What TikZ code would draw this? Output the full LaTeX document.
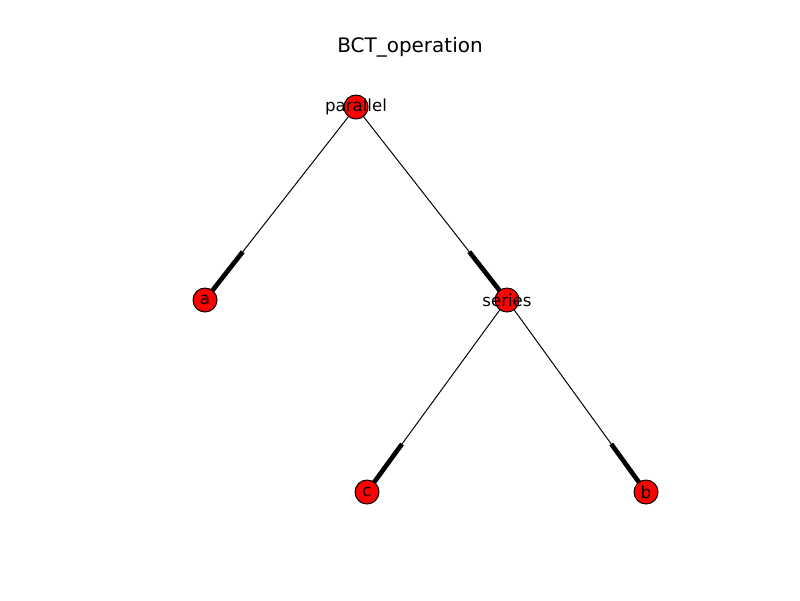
\documentclass[tikz,border=0pt]{standalone}
\usepackage{fontspec}
\setmainfont{DejaVu Sans}
\usetikzlibrary{backgrounds}
\tikzset{
  vertex/.style={circle, draw=black, fill=red, line width=0.7pt, minimum size=0.6cm, inner sep=0pt, font=\fontsize{11.8}{12}\selectfont},
  edge/.style={line width=0.7pt},
  tip/.style={line width=3.3pt}
}
\begin{document}
\begin{tikzpicture}[x=0.025cm, y=-0.025cm]
\useasboundingbox (0,0) rectangle (800,600);
\node at (410,47) {\fontsize{14.2}{15}\selectfont BCT\_operation};
\node[vertex] (parallel) at (356,107) {};
\node[vertex] (a) at (205,300) {};
\node[vertex] (series) at (507,300) {};
\node[vertex] (c) at (367,492) {};
\node[vertex] (b) at (646,492) {};
\node[font=\fontsize{11.8}{12}\selectfont] at (parallel) {parallel};
\node[font=\fontsize{11.8}{12}\selectfont] at (a) {a};
\node[font=\fontsize{11.8}{12}\selectfont] at (series) {series};
\node[font=\fontsize{11.8}{12}\selectfont] at (c) {c};
\node[font=\fontsize{11.8}{12}\selectfont] at (b) {b};
\begin{scope}[on background layer]
% edges: thin line, thick end near the target
\foreach \u/\v in {parallel/a, parallel/series, series/c, series/b} {
  \draw[edge] (\u.center) -- (\v.center) coordinate[pos=0.75] (\u-\v);
  \draw[tip] (\u-\v) -- (\v.center);
}
\end{scope}
\end{tikzpicture}
\end{document}
